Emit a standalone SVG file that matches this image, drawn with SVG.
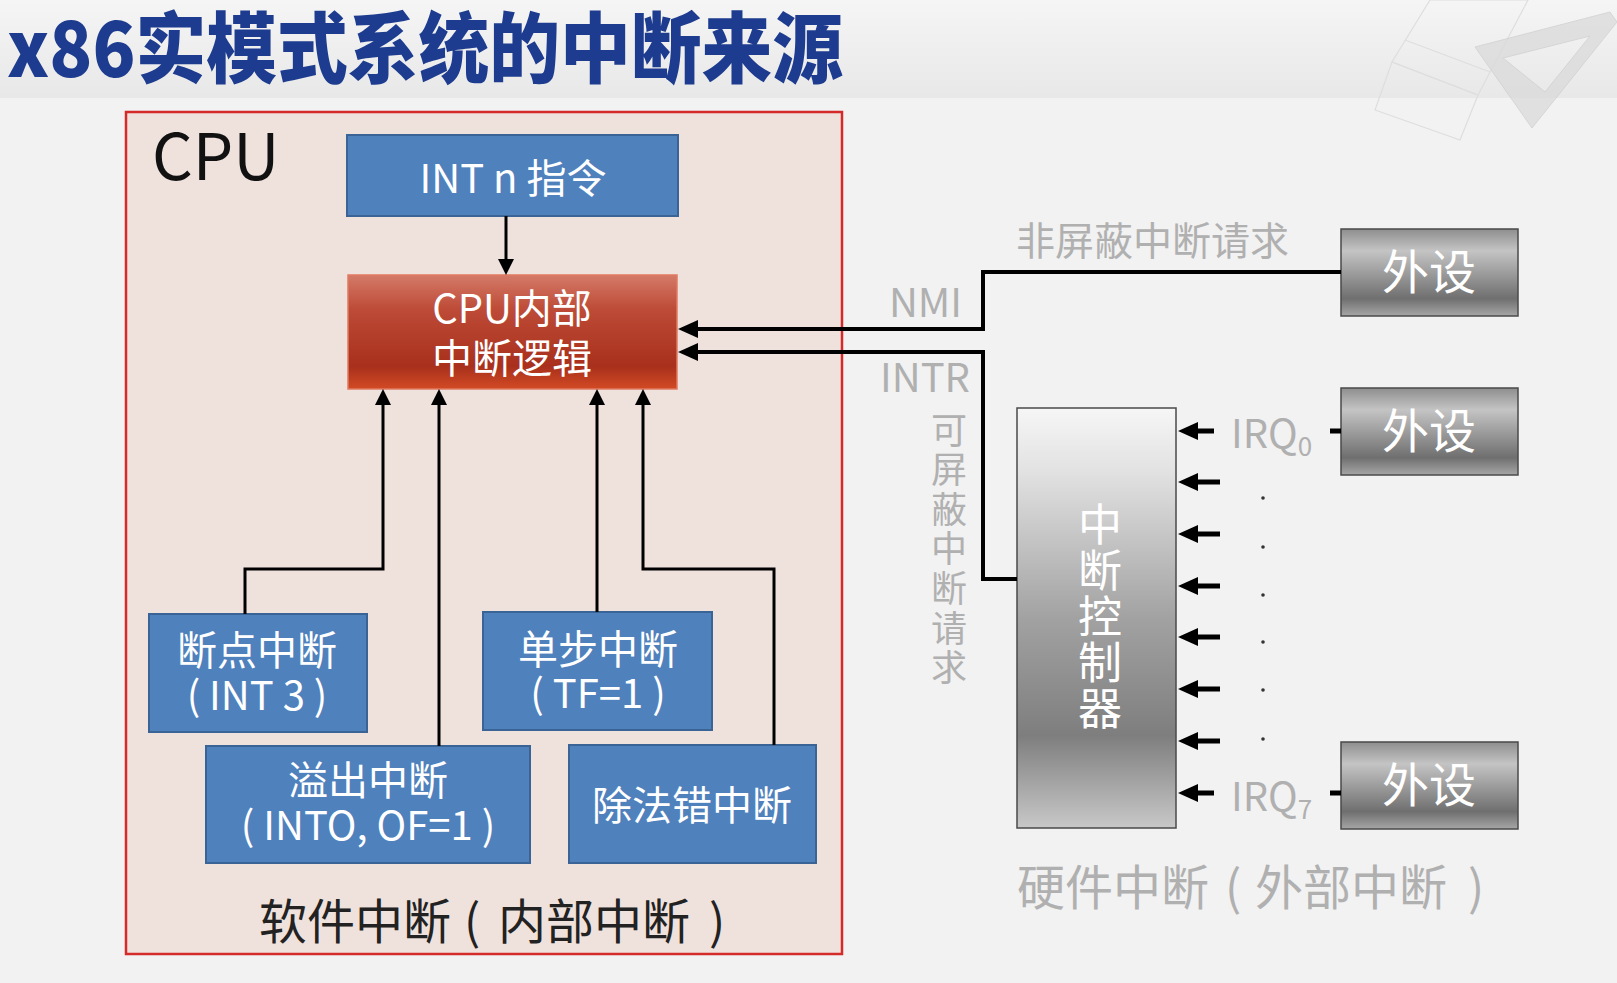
<svg xmlns="http://www.w3.org/2000/svg" width="1617" height="983" viewBox="0 0 1617 983">
  <defs>
    <linearGradient id="bandGrad" x1="0" y1="0" x2="0" y2="1">
      <stop offset="0" stop-color="#f5f5f5"/>
      <stop offset="1" stop-color="#e8e8e8"/>
    </linearGradient>
    <linearGradient id="logicGrad" x1="0" y1="0" x2="0" y2="1">
      <stop offset="0" stop-color="#d47a68"/>
      <stop offset="0.3" stop-color="#bd4b37"/>
      <stop offset="0.8" stop-color="#a8301c"/>
      <stop offset="1" stop-color="#d24a24"/>
    </linearGradient>
    <linearGradient id="picGrad" x1="0" y1="0" x2="0" y2="1">
      <stop offset="0" stop-color="#f6f6f6"/>
      <stop offset="0.15" stop-color="#e2e2e2"/>
      <stop offset="0.5" stop-color="#a2a2a2"/>
      <stop offset="0.78" stop-color="#7e7e7e"/>
      <stop offset="1" stop-color="#c8c8c8"/>
    </linearGradient>
    <linearGradient id="devGrad" x1="0" y1="0" x2="0" y2="1">
      <stop offset="0" stop-color="#8e8e8e"/>
      <stop offset="0.25" stop-color="#c4c4c4"/>
      <stop offset="0.8" stop-color="#6f6f6f"/>
      <stop offset="1" stop-color="#a6a6a6"/>
    </linearGradient>
    <marker id="arr" markerUnits="userSpaceOnUse" markerWidth="16" markerHeight="16" viewBox="0 0 16 16" refX="10" refY="8" orient="auto">
      <path d="M0,0 L16,8 L0,16 z" fill="#000"/>
    </marker>
    <marker id="arrBig" markerUnits="userSpaceOnUse" markerWidth="20" markerHeight="18" viewBox="0 0 20 18" refX="12" refY="9" orient="auto">
      <path d="M0,0 L20,9 L0,18 z" fill="#000"/>
    </marker>
    <style>
      text { font-family: "Noto Sans CJK SC", "Liberation Sans", sans-serif; }
      .blue { fill: #4f81bd; stroke: #3b6496; stroke-width: 2; }
      .dev { fill: url(#devGrad); stroke: #4a4a4a; stroke-width: 1.5; }
      .w40 { font-size: 40px; fill: #ffffff; text-anchor: middle; }
      .w47 { font-size: 47px; fill: #ffffff; text-anchor: middle; }
      .vert { writing-mode: vertical-rl; text-orientation: upright; }
      .gray { fill: #b0b0b0; }
      .wire { fill: none; stroke: #000; stroke-width: 3; }
      .bus { fill: none; stroke: #000; stroke-width: 4; }
      .irq { fill: none; stroke: #000; stroke-width: 5; }
    </style>
  </defs>

  <!-- page background and title band -->
  <rect x="0" y="0" width="1617" height="983" fill="#f2f2f2"/>
  <rect x="0" y="0" width="1617" height="98" fill="url(#bandGrad)"/>

  <!-- faint drafting sheet and set square, top right -->
  <g fill="none" stroke="#dedede" stroke-width="1.2">
    <polygon points="1430,0 1528,0 1478,95 1392,62"/>
    <polygon points="1392,62 1478,95 1460,140 1375,110"/>
    <line x1="1405" y1="40" x2="1490" y2="72"/>
  </g>
  <path d="M1475,47 L1610,12 L1617,22 L1532,128 Z M1503,58 L1590,36 L1545,92 Z" fill="#dadada" fill-rule="evenodd" stroke="#cdcdcd" stroke-width="1" opacity="0.75"/>

  <text x="7" y="77" font-size="77" font-weight="900" fill="#1d3c8f" textLength="836" lengthAdjust="spacingAndGlyphs">x86实模式系统的中断来源</text>

  <!-- CPU enclosure -->
  <g id="cpu">
    <rect x="126" y="112" width="716" height="842" fill="#efe1dc" stroke="#d42a2a" stroke-width="2.5"/>
    <text x="152" y="180" font-size="64" fill="#111">CPU</text>
    <text y="939" font-size="48" fill="#222"><tspan x="259">软件中断</tspan><tspan x="464">(</tspan><tspan x="498">内部中断</tspan><tspan x="709">)</tspan></text>
  </g>

  <g id="int-n">
    <rect class="blue" x="347" y="135" width="331" height="81"/>
    <text class="w40" x="513" y="193">INT n 指令</text>
  </g>

  <g id="logic">
    <rect x="348" y="275" width="329" height="114" fill="url(#logicGrad)" stroke="#e07a60" stroke-width="1.5"/>
    <text class="w40" x="512" y="323">CPU内部</text>
    <text class="w40" x="512" y="373">中断逻辑</text>
  </g>

  <g id="breakpoint">
    <rect class="blue" x="149" y="614" width="218" height="118"/>
    <text class="w40" x="257" y="665">断点中断</text>
    <text class="w40" x="257" y="710">( INT 3 )</text>
  </g>

  <g id="single-step">
    <rect class="blue" x="483" y="612" width="229" height="118"/>
    <text class="w40" x="598" y="664">单步中断</text>
    <text class="w40" x="598" y="708">( TF=1 )</text>
  </g>

  <g id="overflow">
    <rect class="blue" x="206" y="746" width="324" height="117"/>
    <text class="w40" x="368" y="795">溢出中断</text>
    <text class="w40" x="368" y="840">( INTO, OF=1 )</text>
  </g>

  <g id="divide-error">
    <rect class="blue" x="569" y="745" width="247" height="118"/>
    <text class="w40" x="692" y="820">除法错中断</text>
  </g>

  <!-- hardware side -->
  <g id="pic">
    <rect x="1017" y="408" width="159" height="420" fill="url(#picGrad)" stroke="#4a4a4a" stroke-width="1.5"/>
    <text class="vert" x="1100" y="502" font-size="44" letter-spacing="2" fill="#ffffff">中断控制器</text>
  </g>

  <g id="dev-nmi">
    <rect class="dev" x="1341" y="229" width="177" height="87"/>
    <text class="w47" x="1429" y="289">外设</text>
  </g>
  <g id="dev-irq0">
    <rect class="dev" x="1341" y="388" width="177" height="87"/>
    <text class="w47" x="1429" y="448">外设</text>
  </g>
  <g id="dev-irq7">
    <rect class="dev" x="1341" y="742" width="177" height="87"/>
    <text class="w47" x="1429" y="802">外设</text>
  </g>

  <!-- signal labels -->
  <g id="labels">
    <text x="1016" y="255" font-size="39" class="gray">非屏蔽中断请求</text>
    <text x="962" y="317" font-size="40" text-anchor="end" class="gray">NMI</text>
    <text x="970" y="392" font-size="40" text-anchor="end" class="gray">INTR</text>
    <text class="vert gray" x="949" y="412" font-size="36" letter-spacing="3.6">可屏蔽中断请求</text>
    <text x="1231" y="448" font-size="40" class="gray">IRQ<tspan font-size="26" dy="8">0</tspan></text>
    <text x="1231" y="811" font-size="40" class="gray">IRQ<tspan font-size="26" dy="8">7</tspan></text>
    <text y="905" font-size="48" class="gray"><tspan x="1017">硬件中断</tspan><tspan x="1225">(</tspan><tspan x="1255">外部中断</tspan><tspan x="1468">)</tspan></text>
  </g>

  <!-- connectors -->
  <g id="connectors">
    <path class="wire" d="M506,216 V269" marker-end="url(#arr)"/>
    <path class="wire" d="M245,614 V569 H383 V395" marker-end="url(#arr)"/>
    <path class="wire" d="M439,746 V395" marker-end="url(#arr)"/>
    <path class="wire" d="M597,612 V395" marker-end="url(#arr)"/>
    <path class="wire" d="M774,745 V569 H643 V395" marker-end="url(#arr)"/>

    <path class="bus" d="M1341,272 H983 V329 H686" marker-end="url(#arrBig)"/>
    <path class="bus" d="M1017,579 H983 V352 H686" marker-end="url(#arrBig)"/>

    <path class="irq" d="M1214,431 H1186" marker-end="url(#arrBig)"/>
    <path class="irq" d="M1220,482 H1186" marker-end="url(#arrBig)"/>
    <path class="irq" d="M1220,534 H1186" marker-end="url(#arrBig)"/>
    <path class="irq" d="M1220,586 H1186" marker-end="url(#arrBig)"/>
    <path class="irq" d="M1220,637 H1186" marker-end="url(#arrBig)"/>
    <path class="irq" d="M1220,689 H1186" marker-end="url(#arrBig)"/>
    <path class="irq" d="M1220,741 H1186" marker-end="url(#arrBig)"/>
    <path class="irq" d="M1214,793 H1186" marker-end="url(#arrBig)"/>
    <path class="irq" d="M1330,431 H1341"/>
    <path class="irq" d="M1330,793 H1341"/>

    <g fill="#333">
      <circle cx="1263" cy="498" r="1.8"/>
      <circle cx="1263" cy="547" r="1.8"/>
      <circle cx="1263" cy="595" r="1.8"/>
      <circle cx="1263" cy="642" r="1.8"/>
      <circle cx="1263" cy="690" r="1.8"/>
      <circle cx="1263" cy="739" r="1.8"/>
    </g>
  </g>
</svg>
